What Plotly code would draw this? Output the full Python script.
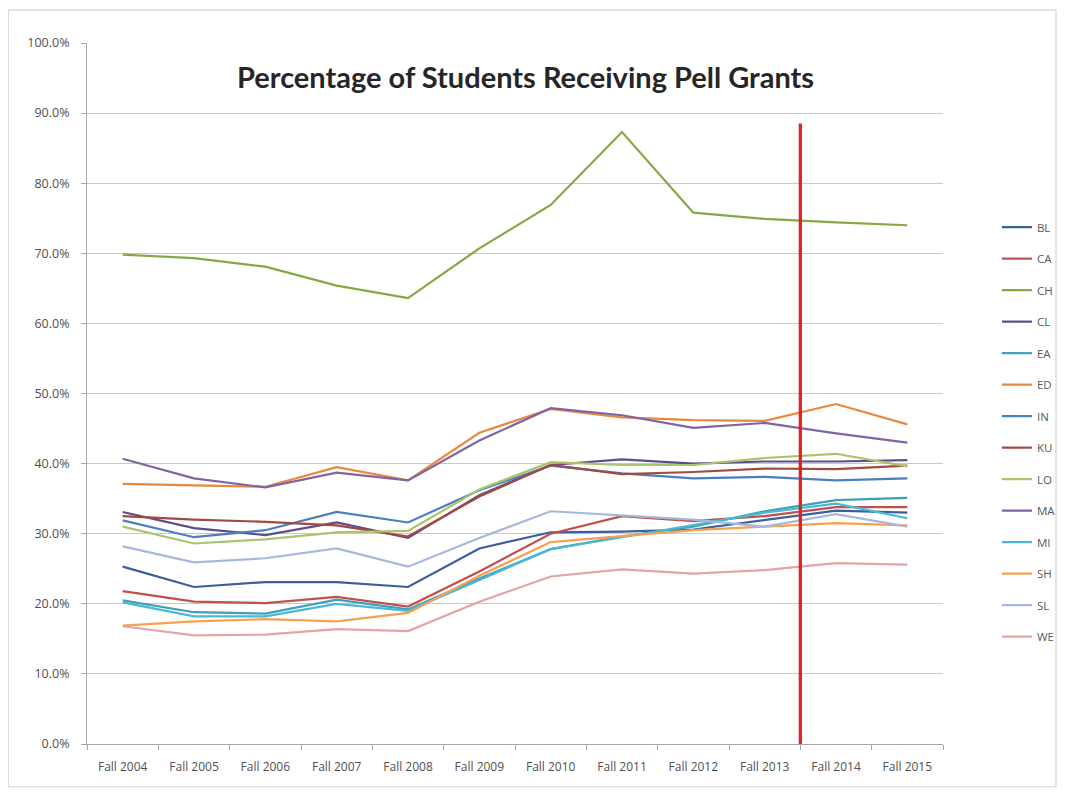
import plotly.graph_objects as go

# ---------------- data ----------------
terms = ["Fall 2004", "Fall 2005", "Fall 2006", "Fall 2007", "Fall 2008", "Fall 2009",
         "Fall 2010", "Fall 2011", "Fall 2012", "Fall 2013", "Fall 2014", "Fall 2015"]

BL = [25.3, 22.4, 23.1, 23.1, 22.4, 27.9, 30.2, 30.3, 30.6, 32.0, 33.3, 33.0]
CA = [21.8, 20.3, 20.1, 21.0, 19.6, 24.6, 30.0, 32.5, 31.8, 32.5, 33.8, 33.8]
CH = [69.8, 69.3, 68.1, 65.4, 63.6, 70.7, 76.9, 87.3, 75.8, 74.9, 74.4, 74.0]
CL = [33.1, 30.8, 29.8, 31.6, 29.4, 35.5, 39.8, 40.6, 40.0, 40.3, 40.3, 40.5]
EA = [20.5, 18.8, 18.6, 20.6, 19.2, 23.6, 27.8, 29.6, 31.0, 33.2, 34.8, 35.1]
ED = [37.1, 36.9, 36.7, 39.5, 37.6, 44.4, 47.8, 46.6, 46.2, 46.1, 48.5, 45.6]
IN = [31.9, 29.5, 30.5, 33.1, 31.6, 36.2, 39.7, 38.6, 37.9, 38.1, 37.6, 37.9]
KU = [32.5, 32.0, 31.7, 31.2, 29.6, 35.3, 39.8, 38.5, 38.8, 39.3, 39.2, 39.7]
LO = [31.0, 28.6, 29.2, 30.2, 30.4, 36.3, 40.2, 39.8, 39.8, 40.8, 41.4, 39.6]
MA = [40.7, 37.9, 36.6, 38.7, 37.6, 43.3, 47.9, 46.9, 45.1, 45.8, 44.3, 43.0]
MI = [20.2, 18.2, 18.2, 20.0, 19.0, 23.4, 27.8, 29.5, 31.2, 33.0, 34.3, 32.2]
SH = [16.9, 17.5, 17.8, 17.5, 18.7, 24.0, 28.8, 29.6, 30.5, 31.0, 31.5, 31.2]
SL = [28.2, 25.9, 26.5, 27.9, 25.3, 29.4, 33.2, 32.6, 32.0, 31.0, 32.8, 31.0]
WE = [16.8, 15.5, 15.6, 16.4, 16.1, 20.3, 23.9, 24.9, 24.3, 24.8, 25.8, 25.6]

series_names = ["BL", "CA", "CH", "CL", "EA", "ED", "IN", "KU", "LO", "MA", "MI", "SH", "SL", "WE"]
series_values = [BL, CA, CH, CL, EA, ED, IN, KU, LO, MA, MI, SH, SL, WE]
series_colors = ["#3A5F9A", "#C0504D", "#86A746", "#5E4C8C", "#3FA0B8", "#E8873E",
                 "#4A7EC0", "#A24A40", "#A9C56C", "#8064A2", "#4BB8D4", "#F7A050",
                 "#A7B8DE", "#E6A3A6"]

divider_after = "Fall 2013"   # red marker line sits between this term and the next
divider_top = 88.5            # percent

title_text = "Percentage of Students Receiving Pell Grants"
y_ticks = [0, 10, 20, 30, 40, 50, 60, 70, 80, 90, 100]
y_tick_labels = [f"{v:.1f}%" for v in y_ticks]

# ---------------- figure ----------------
fig = go.Figure()
for name, vals, col in zip(series_names, series_values, series_colors):
    fig.add_trace(go.Scatter(
        x=terms, y=vals, name=name, mode="lines", legendgroup=name,
        line=dict(color=col, width=2.2),
    ))

div_x = terms.index(divider_after) + 0.5
fig.add_shape(type="line", xref="x", yref="y", x0=div_x, x1=div_x, y0=0, y1=divider_top,
              line=dict(color="#E0201C", width=3.2), layer="above")

# outer chart border
fig.add_shape(type="rect", xref="paper", yref="paper",
              x0=-0.092, x1=1.132, y0=-0.061, y1=1.047,
              line=dict(color="#D4D4D4", width=1.2), fillcolor="rgba(0,0,0,0)", layer="below")

fig.add_annotation(text="<b>" + title_text + "</b>", xref="paper", yref="paper",
                   x=0.512, y=0.952, showarrow=False, xanchor="center", yanchor="middle",
                   font=dict(family="Lato", size=29, color="#262626"))

fig.update_layout(
    width=1057, height=787,
    margin=dict(l=79, r=122, t=35, b=51, autoexpand=False),
    paper_bgcolor="white", plot_bgcolor="white",
    font=dict(family="Open Sans", color="#595959"),
    showlegend=True,
    legend=dict(x=1.063, y=0.758, xanchor="left", yanchor="top",
                font=dict(size=11.5, color="#595959"),
                tracegroupgap=12.5, itemwidth=30, bgcolor="rgba(0,0,0,0)"),
    xaxis=dict(type="category", range=[-0.5, 11.5], showgrid=False, automargin=False,
               showline=True, linecolor="#A6A6A6", linewidth=1,
               ticks="outside", tickson="boundaries", ticklen=5, tickcolor="#A6A6A6",
               ticklabelstandoff=12,
               tickfont=dict(family="Open Sans", size=12, color="#505050")),
    yaxis=dict(range=[0, 100], tickvals=y_ticks, ticktext=y_tick_labels, automargin=False,
               showgrid=True, gridcolor="#C9C9C9", gridwidth=1.3,
               showline=True, linecolor="#A6A6A6", linewidth=1,
               ticks="outside", ticklen=5, tickcolor="#A6A6A6",
               ticklabelstandoff=9,
               tickfont=dict(family="Open Sans", size=12.5, color="#505050"), zeroline=False),
)

fig.write_html("out.html")
